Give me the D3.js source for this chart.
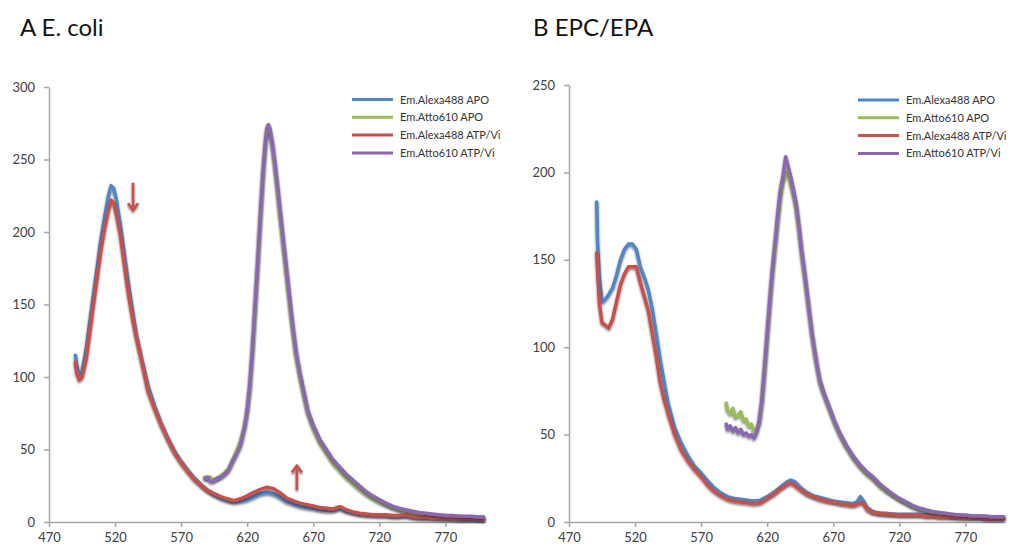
<!DOCTYPE html>
<html><head><meta charset="utf-8">
<script src="https://cdn.jsdelivr.net/npm/d3@7"></script>
<style>
body{margin:0;background:#fff;}
text{font-family:Lato,"Open Sans",sans-serif;}
</style></head>
<body>
<svg id="chart" width="1020" height="550"></svg>
<script>
// ---------- data ----------
const seriesNames = ["Em.Alexa488 APO","Em.Atto610 APO","Em.Alexa488 ATP/Vi","Em.Atto610 ATP/Vi"];
const seriesColors = ["#4f86c6","#9bbb59","#c9504b","#8a68b0"];
const xTicks = [470,520,570,620,670,720,770];
const leftYTicks = [0,50,100,150,200,250,300];
const rightYTicks = [0,50,100,150,200,250];

// Panel A (E. coli)
const leftAlexaWl = [490,491,493,495,498,500,503,506,509,512,
 515,517,519,521,524,527,530,533,536,540,
 545,550,555,560,565,570,575,580,585,590,
 595,600,605,610,615,620,625,630,635,640,
 645,650,655,660,665,670,675,680,685,690,
 692,695,700,705,710,715,720,725,730,735,
 740,745,750,755,760,765,770,775,780,785,
 790,795,799];
const leftAlexaApo = [115,108,100,104,118,132,152,172,193,210,
 225,232,230,222,205,185,165,147,130,113,
 94,80,68,58,49,42,36,30.5,26,22,
 19,16.5,15,14,14.5,15.5,17.5,19.5,20.5,19.5,
 17,14,12.5,11,10,9.5,8.5,8,8,9.5,
 9,7.5,6.5,5.5,5,5,4.5,4.5,4,4,
 4.5,3.5,3,3,3,2.5,2.5,2.5,2,2,
 2,2,1.5];
const leftAlexaAtp = [110,103,98,100,112,125,146,166,186,202,
 215,222,220,212,198,178,158,142,128,112,
 90,78,67,57,48,41,35,29.5,25.5,22,
 19.5,17.5,16,14.7,16,18,20.5,22.5,24,23,
 20,16.5,14.5,13,12,11,10,9.5,9,10.5,
 10,8.5,7,6,5.5,5,5,5,4.5,4.5,
 5,4,3.5,3.5,3,3,3,2.5,2.5,2.5,
 2.5,2,2];
const leftAttoWl = [588,590,592,594,597,600,603,606,609,612,
 615,618,620,622,624,626,628,630,632,634,
 635,636,637,639,641,643,645,648,651,654,
 657,660,663,666,670,675,680,685,690,695,
 700,705,710,715,720,725,730,735,740,745,
 750,755,760,765,770,775,780,785,790,795,
 799];
const leftAttoApo = [31,30,31,29,30,32,34,37,43,49,
 56,66,76,92,116,146,176,208,238,262,
 270,273,271,260,245,228,210,185,160,136,
 115,100,87,75,65,55,48,41,36,31,
 27,23,19.5,16.5,14,12,10,8.5,7.5,6.5,
 6,5.5,5,4.5,4.5,4,4,3.5,3.5,3.5,
 3.5];
const leftAttoAtp = [30,31,28,28,30,31,33,36,42,47,
 53,65,77,95,120,150,180,212,242,264,
 272,274,272,262,248,232,215,190,165,140,
 118,103,90,77,67,57,50,43,38,33,
 29,25,21,18,15.5,13,11,9.5,8.5,7.5,
 6.5,6,5.5,5,4.5,4.5,4,4,4,3.5,
 3.5];

// Panel B (EPC/EPA)
const rightAlexaWl = [491,491.5,493,495,497,500,503,506,509,512,
 515,518,521,524,527,530,533,536,539,542,
 545,550,555,560,565,570,575,580,585,590,
 595,600,605,610,615,620,625,630,635,638,
 641,645,650,655,660,665,670,675,680,685,
 688,690.5,693,696,700,705,710,715,720,725,
 730,735,740,745,750,755,760,765,770,775,
 780,785,790,795,799];
const rightAlexaApo = [183,162,140,126,127,130,134,141,150,156,
 159,159,156,146,140,133,122,108,93,80,
 68,54,45,38,32,28,23.5,19.5,16.5,14.5,
 13.5,13,12.5,12,12.5,14.5,17,20,23,24,
 23,20,17,15,14,13,12,11.5,11,10.5,
 11.5,14.5,12,8,6,5,5,4.5,4.5,4.5,
 4.5,4.5,4,4,3.5,3.5,3,3,3,3,
 3,2.5,2.5,2.5,2.5];
const rightAlexaAtp = [154,146,125,114,113,111,116,126,136,142,
 146,146,146,137,129,121,108,95,80,70,
 62,50,41,35,30,26,21,17.5,15,13,
 12,11.5,11,10.5,11,13.5,16,19,21.5,22.3,
 21,18.5,16,14.5,13,12,11.5,10.5,10,9.5,
 10,11,10.5,7,5.5,5,4.5,4.5,4,4,
 4,4,3.5,3.5,3,3,3,2.5,2.5,2.5,
 2.5,2,2,2,2];
const rightAttoWl = [589,590,592,594,596,598,600,602,604,606,
 608,610,612,614,616,618,620,622,624,626,
 628,630,632,634,636,638,640,642,644,646,
 648,650,652,654,656,658,660,663,667,671,
 675,680,685,690,695,700,705,710,715,720,
 725,730,735,740,745,750,755,760,765,770,
 775,780,785,790,795,799];
const rightAttoApo = [68,64,62,65,60,61,63,58,59,55,
 56,52,53,57,68,86,105,124,142,157,
 172,186,195,200,199,193,187,180,168,155,
 143,131,119,107,97,88,80,73,65,57,
 50,43,37,32,28,25,21,18,15.5,13,
 11,9,7.5,6.5,5.5,5,4.5,4,4,3.5,
 3.5,3.5,3,3,3,3];
const rightAttoAtp = [56,53,55,52,54,51,53,50,51,49,
 50,48,51,58,70,88,108,127,145,160,
 176,190,198,209,203,197,190,182,170,156,
 145,133,120,108,98,89,81,74,66,58,
 51,44,38,33,29,26,22,19,16,13.5,
 11.5,9.5,8,7,6,5.5,5,4.5,4,4,
 3.5,3.5,3.5,3,3,3];

// arrows in panel A: [wavelength, from value, to value]
const arrowsA = [[533.6,234,215],[657.6,22,39]];

// ---------- drawing ----------
const svg = d3.select("#chart");
const defs = svg.append("defs");
const f = defs.append("filter").attr("id","shadow").attr("x","-10%").attr("y","-10%").attr("width","120%").attr("height","130%");
f.append("feDropShadow").attr("dx",0).attr("dy",1.5).attr("stdDeviation",1).attr("flood-color","#000").attr("flood-opacity",0.55);

function panel(opts){
  const g = svg.append("g");
  const x = d3.scaleLinear().domain([470,800]).range(opts.xr);
  const y = d3.scaleLinear().domain([0,opts.ymax]).range(opts.yr);
  const ax = g.append("g").attr("transform",`translate(0,${opts.yr[0]})`)
    .call(d3.axisBottom(x).tickValues(xTicks).tickSize(5).tickSizeOuter(0).tickPadding(6));
  const ay = g.append("g").attr("transform",`translate(${opts.xr[0]},0)`)
    .call(d3.axisLeft(y).tickValues(opts.yTicks).tickSize(5).tickSizeOuter(0).tickPadding(9));
  [ax,ay].forEach(a=>{
    a.selectAll("path,line").attr("stroke","#a6a6a6").attr("stroke-width",1.5);
    a.selectAll("text").attr("font-size",13).attr("fill","#404040").style("font-family","Lato, sans-serif");
  });
  const line = d3.line().x(d=>x(d[0])).y(d=>y(d[1]));
  opts.series.forEach((s,i)=>{
    const pts = s.wl.map((w,k)=>[w,s.v[k]]);
    g.append("path").datum(pts).attr("d",line).attr("fill","none")
      .attr("stroke",seriesColors[s.c]).attr("stroke-width",3.5)
      .attr("stroke-linejoin","round").attr("stroke-linecap","round")
      .attr("filter","url(#shadow)");
  });
  // title
  g.append("text").attr("x",opts.titleX).attr("y",36).attr("font-size",24).attr("fill","#111").text(opts.title);
  // legend
  const lg = g.append("g");
  seriesNames.forEach((n,i)=>{
    const yy = opts.legY + i*17.8;
    lg.append("line").attr("x1",opts.legX).attr("x2",opts.legX+41).attr("y1",yy).attr("y2",yy)
      .attr("stroke",seriesColors[i]).attr("stroke-width",3);
    lg.append("text").attr("x",opts.legX+48).attr("y",yy+4).attr("font-size",11).attr("fill","#333").text(n);
  });
  return {g,x,y};
}

const A = panel({xr:[49,485], yr:[522,87], ymax:300, yTicks:leftYTicks, title:"A E. coli", titleX:20, legX:352, legY:99.5,
  series:[{wl:leftAlexaWl,v:leftAlexaApo,c:0},{wl:leftAttoWl,v:leftAttoApo,c:1},{wl:leftAlexaWl,v:leftAlexaAtp,c:2},{wl:leftAttoWl,v:leftAttoAtp,c:3}]});
const B = panel({xr:[569,1005], yr:[522,85], ymax:250, yTicks:rightYTicks, title:"B EPC/EPA", titleX:533, legX:858, legY:100,
  series:[{wl:rightAlexaWl,v:rightAlexaApo,c:0},{wl:rightAttoWl,v:rightAttoApo,c:1},{wl:rightAlexaWl,v:rightAlexaAtp,c:2},{wl:rightAttoWl,v:rightAttoAtp,c:3}]});

// arrows
arrowsA.forEach(a=>{
  const xx = A.x(a[0]), y1 = A.y(a[1]), y2 = A.y(a[2]);
  const dir = y2>y1 ? 1 : -1;
  const ag = A.g.append("g").attr("filter","url(#shadow)");
  ag.append("line").attr("x1",xx).attr("x2",xx).attr("y1",y1).attr("y2",y2-dir*3)
    .attr("stroke","#c9504b").attr("stroke-width",2.6);
  ag.append("path").attr("d",`M${xx-5},${y2-dir*7} L${xx},${y2} L${xx+5},${y2-dir*7}`)
    .attr("fill","none").attr("stroke","#c9504b").attr("stroke-width",2.6).attr("stroke-linejoin","round");
});
</script>
</body></html>
